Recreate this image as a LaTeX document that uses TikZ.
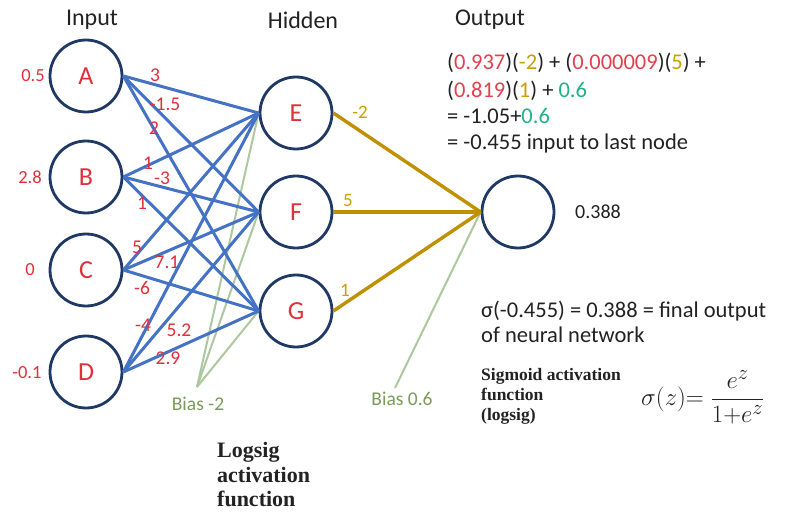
\documentclass[tikz,border=0pt]{standalone}
\usepackage{fontspec}
\setmainfont{Carlito}
\newfontfamily\serifbold{Liberation Serif}
\definecolor{navy}{HTML}{1F3864}
\definecolor{edgeblue}{HTML}{4472C4}
\definecolor{gold}{HTML}{BF9000}
\definecolor{biasline}{HTML}{ADC79E}
\definecolor{biastext}{HTML}{7A9A5A}
\definecolor{wred}{HTML}{E0303A}
\definecolor{fred}{HTML}{E5404F}
\definecolor{fgold}{HTML}{C8A000}
\definecolor{fgreen}{HTML}{22B287}
\definecolor{ink}{HTML}{222222}
\tikzset{
  neuron/.style={circle, draw=navy, line width=2.8pt, minimum size=72pt, inner sep=0pt,
    text=wred, font=\fontsize{26}{29}\selectfont},
  header/.style={text=ink, font=\fontsize{24}{28}\selectfont},
  inval/.style={text=wred, font=\fontsize{18.5}{21}\selectfont},
  wlabel/.style={text=wred, font=\fontsize{19.5}{22}\selectfont, inner sep=0pt},
  olabel/.style={text=fgold, font=\fontsize{19}{22}\selectfont, inner sep=0pt},
  blue edge/.style={draw=edgeblue, line width=3pt},
  gold edge/.style={draw=gold, line width=3.4pt},
  bias edge/.style={draw=biasline, line width=2pt},
  biaslabel/.style={text=biastext, font=\fontsize{19.5}{22}\selectfont},
  txt/.style={text=ink, font=\fontsize{22.5}{26}\selectfont, anchor=base west, inner sep=0pt},
  boldnote/.style={text=ink, anchor=base west, inner sep=0pt},
}
\begin{document}
\begin{tikzpicture}[x=1pt,y=-1pt]
\fill[white] (0,0) rectangle (787,513);
\useasboundingbox (0,0) rectangle (787,513);

% layer headers
\node[header] (hin) at (92,20) {Input};
\node[header] (hhid) at (303,20) {Hidden};
\node[header] (hout) at (490,20) {Output};

% neurons
\node[neuron] (A) at (86,76) {A};
\node[neuron] (B) at (86,177) {B};
\node[neuron] (C) at (86,270) {C};
\node[neuron] (D) at (86,372) {D};
\node[neuron] (E) at (296,113) {E};
\node[neuron] (F) at (296,212) {F};
\node[neuron] (G) at (296,311) {G};
\node[neuron] (O) at (518,212) {};

% input values
\node[inval] (va) at (33,76) {0.5};
\node[inval] (vb) at (30,177) {2.8};
\node[inval] (vc) at (30,270) {0};
\node[inval] (vd) at (27,373) {-0.1};

% bias sources
\coordinate (b1) at (197,387);
\coordinate (b2) at (395,388);
\draw[bias edge] (b1) -- (E.west);
\draw[bias edge] (b1) -- (F.west);
\draw[bias edge] (b1) -- (G.west);
\draw[bias edge] (b2) -- (O.west);

% input to hidden
\foreach \s in {A,B,C,D}{
  \foreach \t in {E,F,G}{
    \draw[blue edge] (\s.east) -- (\t.west);
  }
}

% hidden to output
\foreach \s in {E,F,G}{
  \draw[gold edge] (\s.east) -- (O.west);
}

% input weights
\node[wlabel] (wae) at (155,75) {3};
\node[wlabel] (waf) at (165,104) {-1.5};
\node[wlabel] (wag) at (154,128) {2};
\node[wlabel] (wbe) at (148,163) {1};
\node[wlabel] (wbf) at (162,178) {-3};
\node[wlabel] (wbg) at (142,203) {1};
\node[wlabel] (wce) at (137,247) {5};
\node[wlabel] (wcf) at (167,262) {7.1};
\node[wlabel] (wcg) at (142,288) {-6};
\node[wlabel] (wde) at (143,325) {-4};
\node[wlabel] (wdf) at (179,330) {5.2};
\node[wlabel] (wdg) at (168,358) {2.9};

% output weights
\node[olabel] (weo) at (360,112) {-2};
\node[olabel] (wfo) at (348,200) {5};
\node[olabel] (wgo) at (345,290) {1};

% bias labels
\node[biaslabel] (lb1) at (198,404) {Bias -2};
\node[biaslabel] (lb2) at (402,399) {Bias 0.6};

% output value
\node[text=ink, font=\fontsize{20}{23}\selectfont] (oval) at (598,212) {0.388};

% weighted sum
\node[txt] (s1) at (447,70) {(\textcolor{fred}{0.937})(\textcolor{fgold}{-2}) + (\textcolor{fred}{0.000009})(\textcolor{fgold}{5}) +};
\node[txt] (s2) at (447,98) {(\textcolor{fred}{0.819})(\textcolor{fgold}{1}) + \textcolor{fgreen}{0.6}};
\node[txt] (s3) at (447,124) {= -1.05+\textcolor{fgreen}{0.6}};
\node[txt] (s4) at (447,150) {= -0.455 input to last node};

% final output
\node[txt] (r1) at (481,317) {σ(-0.455) = 0.388 = final output};
\node[txt] (r2) at (481,342) {of neural network};

% sigmoid note
\node[boldnote, font=\serifbold\bfseries\fontsize{17.5}{20}\selectfont] (n1) at (481,380) {Sigmoid activation};
\node[boldnote, font=\serifbold\bfseries\fontsize{17.5}{20}\selectfont] (n2) at (481,400) {function};
\node[boldnote, font=\serifbold\bfseries\fontsize{17.5}{20}\selectfont] (n3) at (481,420) {(logsig)};
\node[text=ink, anchor=west, inner sep=0pt, font=\fontsize{30}{34}\selectfont] (sig) at (641,397)
  {$\displaystyle \sigma(z){=}\ \frac{e^{z}}{1{+}e^{z}}$};

% logsig note
\node[boldnote, font=\serifbold\bfseries\fontsize{22}{25}\selectfont] (m1) at (217,457) {Logsig};
\node[boldnote, font=\serifbold\bfseries\fontsize{22}{25}\selectfont] (m2) at (217,482) {activation};
\node[boldnote, font=\serifbold\bfseries\fontsize{22}{25}\selectfont] (m3) at (217,506) {function};
\end{tikzpicture}
\end{document}
